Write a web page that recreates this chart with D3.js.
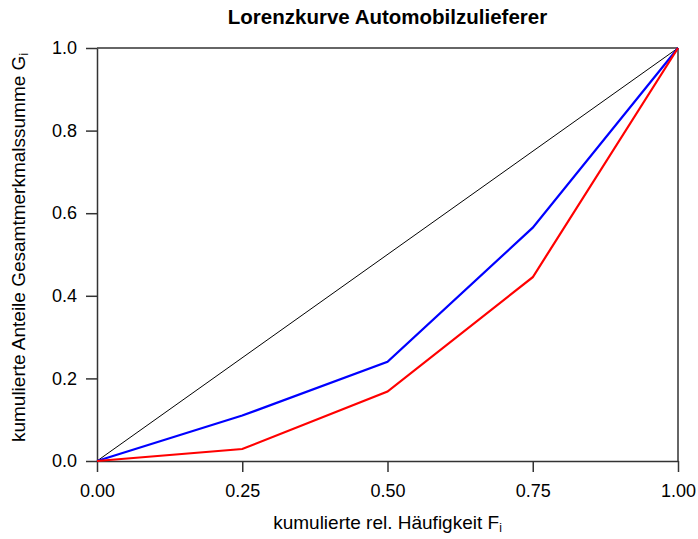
<!DOCTYPE html>
<html><head><meta charset="utf-8">
<script src="https://cdn.jsdelivr.net/npm/d3@7"></script>
<style>body{margin:0;background:#fff}svg{display:block;font-family:"Liberation Sans",Arial,sans-serif}</style>
</head><body><svg id="c" width="698" height="539"></svg>
<script>
const shares = [0, 0.25, 0.5, 0.75, 1];
const blueValues = [0, 0.11, 0.24, 0.565, 1];
const redValues = [0, 0.029, 0.168, 0.445, 1];
const xTicks = [0, 0.25, 0.5, 0.75, 1];
const yTicks = [0, 0.2, 0.4, 0.6, 0.8, 1];
const title = "Lorenzkurve Automobilzulieferer";

const svg = d3.select("#c");
const L = 97, R = 678, T = 48, B = 461;
const x = d3.scaleLinear().domain([0, 1]).range([L, R]);
const y = d3.scaleLinear().domain([0, 1]).range([B, T]);
const axisColor = "#333";

// axes
const xa = svg.append("g").attr("transform", `translate(0,${B})`)
  .call(d3.axisBottom(x).tickValues(xTicks).tickFormat(d3.format(".2f")).tickSize(11).tickPadding(12).tickSizeOuter(0));
const ya = svg.append("g").attr("transform", `translate(${L},0)`)
  .call(d3.axisLeft(y).tickValues(yTicks).tickFormat(d3.format(".1f")).tickSize(11).tickPadding(9).tickSizeOuter(0));
[xa, ya].forEach(a => {
  a.selectAll("path,line").attr("stroke", axisColor).attr("stroke-width", 1.5);
  a.selectAll("text").attr("font-size", 18).attr("fill", "#000").attr("font-family", "Liberation Sans, Arial, sans-serif");
});

// top and right border
svg.append("line").attr("x1", x(0)).attr("x2", x(1)).attr("y1", y(1)).attr("y2", y(1)).attr("stroke", axisColor).attr("stroke-width", 1.5);
svg.append("line").attr("x1", x(1)).attr("x2", x(1)).attr("y1", y(1)).attr("y2", y(0)).attr("stroke", axisColor).attr("stroke-width", 1.5);

// equality diagonal
svg.append("line").attr("x1", x(0)).attr("y1", y(0)).attr("x2", x(1)).attr("y2", y(1)).attr("stroke", "#000").attr("stroke-width", 1);

const line = d3.line().x((d, i) => x(shares[i])).y(d => y(d));
svg.append("path").datum(blueValues).attr("d", line).attr("fill", "none").attr("stroke", "#0000ff").attr("stroke-width", 2.2);
svg.append("path").datum(redValues).attr("d", line).attr("fill", "none").attr("stroke", "#ff0000").attr("stroke-width", 2.2);

// title
svg.append("text").attr("x", (L + R) / 2).attr("y", 24).attr("text-anchor", "middle")
  .attr("font-size", 20.5).attr("font-weight", "bold").text(title);

// x label
const xl = svg.append("text").attr("x", (L + R) / 2).attr("y", 529).attr("text-anchor", "middle").attr("font-size", 19).attr("fill", "#000");
xl.append("tspan").text("kumulierte rel. Häufigkeit F");
xl.append("tspan").attr("font-size", 12).attr("dy", 3).text("i");

// y label
const yl = svg.append("text").attr("transform", `translate(25,${(T + B) / 2 - 7}) rotate(-90)`).attr("text-anchor", "middle").attr("font-size", 19).attr("fill", "#000");
yl.append("tspan").text("kumulierte Anteile Gesamtmerkmalssumme G");
yl.append("tspan").attr("font-size", 12).attr("dy", 3).text("i");
</script></body></html>
